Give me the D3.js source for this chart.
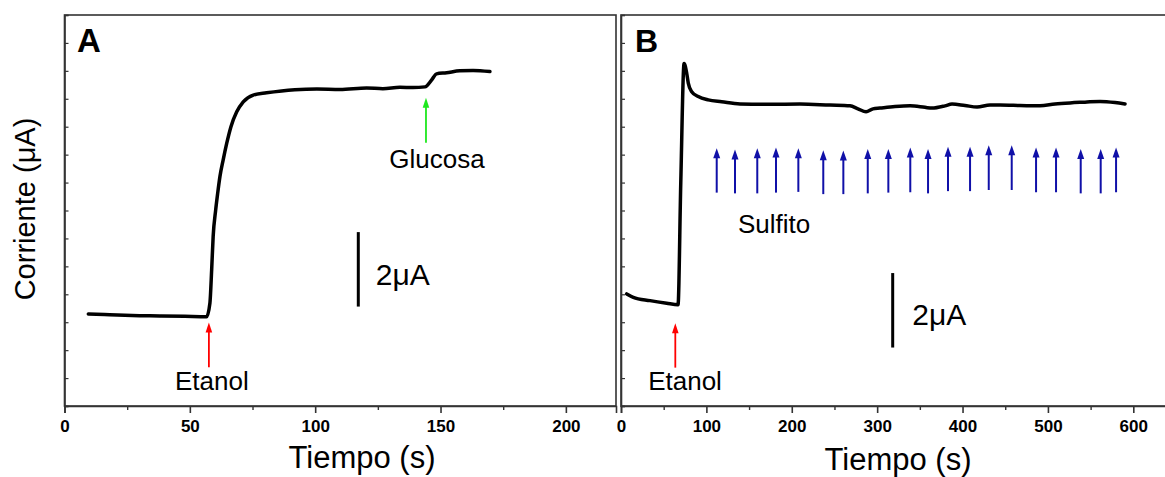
<!DOCTYPE html>
<html>
<head>
<meta charset="utf-8">
<script src="https://cdn.jsdelivr.net/npm/d3@7"></script>
<style>
  html, body { margin: 0; padding: 0; background: #fff; }
  svg { display: block; font-family: "Liberation Sans", Arial, sans-serif; }
</style>
</head>
<body>
<svg id="chart" width="1165" height="477"></svg>
<script>
// ---------- Data ----------
// Panel A: ethanol then glucose addition
const timeA = [9.5, 18, 27, 38, 48, 56.7, 58.0, 58.7, 59.3, 60.3, 61.1, 62.0, 63.3, 64.7, 66.4, 68.7, 71.3, 75.3, 80.6, 86.6, 91.9, 100.7, 109.9, 120.5, 127, 133.8, 139, 143.8, 146.4, 148.4, 152.4, 157.7, 163, 169.7];
const currentA = [2.47, 2.45, 2.43, 2.42, 2.41, 2.40, 2.76, 3.65, 4.55, 5.26, 5.71, 6.16, 6.61, 7.05, 7.50, 7.90, 8.17, 8.35, 8.41, 8.46, 8.49, 8.51, 8.50, 8.54, 8.52, 8.56, 8.55, 8.57, 8.75, 8.92, 8.95, 9.00, 9.01, 8.98];

// Panel B: ethanol then successive sulfite additions
const timeB = [6.7, 14.4, 34.0, 53.5, 66.8, 70.0, 73.9, 77.0, 78.8, 82.8, 90.5, 102.2, 117.9, 139.4, 174.5, 209.6, 244.8, 268.2, 277.5, 287.0, 295.1, 303.3, 320.9, 338.5, 356.0, 364.2, 379.5, 387.7, 402.9, 417.0, 432.2, 443.9, 467.3, 490.7, 508.3, 525.9, 543.4, 561.0, 578.6, 590.3];
const currentB = [3.01, 2.92, 2.83, 2.76, 2.72, 5.99, 9.20, 8.93, 8.67, 8.44, 8.31, 8.22, 8.17, 8.11, 8.10, 8.11, 8.08, 8.06, 7.98, 7.90, 7.98, 8.00, 8.04, 8.06, 8.02, 8.00, 8.06, 8.11, 8.07, 8.03, 8.08, 8.08, 8.07, 8.06, 8.11, 8.14, 8.16, 8.18, 8.15, 8.11];

// Sulfite addition arrows (time, tip and tail current)
const sulfitoTimes = [112.1, 133.5, 159.6, 181.5, 207.7, 236.9, 260.4, 289.0, 313.1, 338.8, 359.6, 383.0, 408.8, 430.7, 457.6, 486.1, 509.5, 538.4, 561.8, 579.8];
const sulfitoTip = [6.92, 6.89, 6.92, 6.94, 6.92, 6.87, 6.86, 6.90, 6.90, 6.94, 6.90, 6.96, 6.96, 7.00, 7.00, 6.94, 6.94, 6.90, 6.90, 6.94];
const sulfitoTail = [5.73, 5.71, 5.71, 5.73, 5.75, 5.69, 5.69, 5.71, 5.73, 5.74, 5.71, 5.77, 5.77, 5.80, 5.80, 5.74, 5.74, 5.71, 5.71, 5.74];

// Axis ticks
const ticksA = [0, 50, 100, 150, 200];
const minorA = [25, 75, 125, 175];
const ticksB = [0, 100, 200, 300, 400, 500, 600];
const minorB = [50, 150, 250, 350, 450, 550];
const yTickStep = 0.75;
const yMax = 10.5;

// ---------- Layout ----------
const svg = d3.select("#chart");
const plotTop = 15, plotBottom = 406;
const font = '"Liberation Sans", Arial, sans-serif';

const y = d3.scaleLinear().domain([0, yMax]).range([plotBottom, plotTop]);
const xA = d3.scaleLinear().domain([0, 220]).range([64.5, 616]);
const xB = d3.scaleLinear().domain([0, 650]).range([621, 1176]);

svg.append("rect").attr("width", 1165).attr("height", 477).attr("fill", "#fff");

function drawPanel(x, ticks, minor, times, vals) {
  const g = svg.append("g");
  const [x0, x1] = x.range();
  g.append("rect").attr("x", x0).attr("y", plotTop).attr("width", x1 - x0).attr("height", plotBottom - plotTop)
    .attr("fill", "none").attr("stroke", "#333").attr("stroke-width", 1.6);
  const ax = g.append("g").attr("transform", `translate(0,${plotBottom})`)
    .call(d3.axisBottom(x).tickValues(ticks).tickSize(7).tickPadding(7).tickFormat(d3.format("d")));
  ax.select(".domain").attr("stroke", "#333").attr("stroke-width", 1.6);
  ax.selectAll(".tick line").attr("stroke", "#333").attr("stroke-width", 1.6);
  ax.selectAll(".tick text").attr("font-family", font).attr("font-size", 17).attr("font-weight", "bold").attr("fill", "#000");
  const mx = g.append("g").attr("transform", `translate(0,${plotBottom})`)
    .call(d3.axisBottom(x).tickValues(minor).tickSize(4).tickFormat(""));
  mx.select(".domain").remove();
  mx.selectAll(".tick line").attr("stroke", "#333").attr("stroke-width", 1.4);
  const yt = d3.range(0, yMax + 0.001, yTickStep);
  const ay = g.append("g").attr("transform", `translate(${x0},0)`)
    .call(d3.axisLeft(y).tickValues(yt).tickSize(-4).tickFormat(""));
  ay.select(".domain").attr("stroke", "#333").attr("stroke-width", 1.6);
  ay.selectAll(".tick line").attr("stroke", "#333").attr("stroke-width", 1.2);
  const line = d3.line().x((d, i) => x(times[i])).y(d => y(d)).curve(d3.curveMonotoneX);
  g.append("path").datum(vals).attr("d", line)
    .attr("fill", "none").attr("stroke", "#000").attr("stroke-width", 3.5)
    .attr("stroke-linejoin", "round").attr("stroke-linecap", "round");
  return g;
}

function arrow(g, x, t, tipV, tailV, color, hl, hw, sw) {
  const px = x(t), ty = y(tipV), by = y(tailV);
  g.append("line").attr("x1", px).attr("x2", px).attr("y1", by).attr("y2", ty + hl - 1)
    .attr("stroke", color).attr("stroke-width", sw);
  g.append("path").attr("d", `M${px},${ty} L${px - hw},${ty + hl} L${px + hw},${ty + hl} Z`).attr("fill", color);
}

function label(g, x, t, v, txt, size, anchor, weight) {
  g.append("text").attr("x", x(t)).attr("y", y(v)).attr("text-anchor", anchor || "middle")
    .attr("font-family", font).attr("font-size", size).attr("font-weight", weight || "normal")
    .attr("fill", "#000").text(txt);
}

function scaleBar(g, x, t, v0, txtT, txtV) {
  g.append("line").attr("x1", x(t)).attr("x2", x(t)).attr("y1", y(v0)).attr("y2", y(v0 + 2))
    .attr("stroke", "#000").attr("stroke-width", 3);
  label(g, x, txtT, txtV, "2\u03BCA", 30, "start");
}

// ----- Panel A -----
const gA = drawPanel(xA, ticksA, minorA, timeA, currentA);
arrow(gA, xA, 57.6, 2.24, 1.04, "#ff0000", 10, 3.3, 1.8);
label(gA, xA, 58.8, 0.43, "Etanol", 26);
arrow(gA, xA, 144.2, 8.28, 7.07, "#1ee81e", 10, 3.3, 1.8);
label(gA, xA, 148.6, 6.38, "Glucosa", 26);
scaleBar(gA, xA, 117.2, 2.67, 124.2, 3.25);
gA.append("text").attr("x", 77).attr("y", 51.5).attr("font-family", font).attr("font-size", 33)
  .attr("font-weight", "bold").text("A");
gA.append("text").attr("x", 362).attr("y", 468).attr("text-anchor", "middle").attr("font-family", font)
  .attr("font-size", 31).text("Tiempo (s)");

// ----- Panel B -----
const gB = drawPanel(xB, ticksB, minorB, timeB, currentB);
arrow(gB, xB, 63.6, 2.22, 1.03, "#ff0000", 10, 3.3, 1.8);
label(gB, xB, 75, 0.43, "Etanol", 26);
sulfitoTimes.forEach((t, i) => arrow(gB, xB, t, sulfitoTip[i], sulfitoTail[i], "#1010a8", 10, 3.5, 2));
label(gB, xB, 179.2, 4.64, "Sulfito", 26);
scaleBar(gB, xB, 318.2, 1.57, 341.2, 2.18);
gB.append("text").attr("x", 635).attr("y", 51.5).attr("font-family", font).attr("font-size", 32)
  .attr("font-weight", "bold").text("B");
gB.append("text").attr("x", 898).attr("y", 470).attr("text-anchor", "middle").attr("font-family", font)
  .attr("font-size", 31).text("Tiempo (s)");

// Y title
svg.append("text").attr("transform", "translate(35,209) rotate(-90)").attr("text-anchor", "middle")
  .attr("font-family", font).attr("font-size", 29).text("Corriente (\u03BCA)");
</script>
</body>
</html>
